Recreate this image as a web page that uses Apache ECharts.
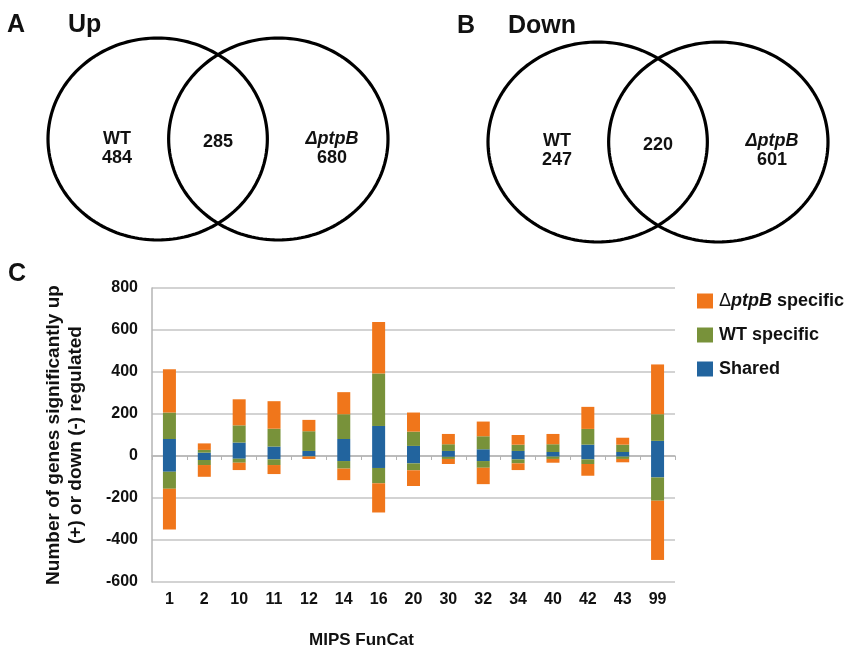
<!DOCTYPE html>
<html>
<head>
<meta charset="utf-8">
<script src="https://cdn.jsdelivr.net/npm/echarts@6/dist/echarts.min.js"></script>
<style>
  html, body { margin: 0; padding: 0; background: #fff; }
  #main { width: 849px; height: 655px; }
</style>
</head>
<body>
<div id="main"></div>
<script>
// MIPS functional categories (x axis)
var funCats = ['1', '2', '10', '11', '12', '14', '16', '20', '30', '32', '34', '40', '42', '43', '99'];

// up-regulated (+)
var sharedUp = [81, 16, 64, 45, 24, 81, 143, 48, 24, 32, 24, 19, 54, 19, 72];
var wtUp     = [126, 13, 82, 85, 94, 118, 250, 68, 32, 62, 30, 37, 75, 35, 127];
var ptpbUp   = [206, 31, 124, 131, 54, 105, 245, 91, 49, 70, 46, 49, 105, 33, 237];

// down-regulated (-)
var sharedDown = [-75, -19, -13, -16, -1, -24, -57, -35, -4, -24, -16, -3, -16, -3, -102];
var wtDown     = [-81, -24, -19, -27, -2, -36, -73, -33, -10, -32, -19, -11, -22, -11, -111];
var ptpbDown   = [-194, -56, -35, -43, -11, -55, -139, -75, -24, -78, -32, -18, -56, -16, -282];

// venn counts: WT only, shared, ΔptpB only
var vennUp = [484, 285, 680];
var vennDown = [247, 220, 601];
var vennNames = ['WT', '', 'ΔptpB'];

var yTicks = { min: -600, max: 800, interval: 200 };

var ORANGE = '#F0761B', GREEN = '#78923A', BLUE = '#22649E';
var FONT = 'Liberation Sans, Arial, Helvetica, sans-serif';

var chart = echarts.init(document.getElementById('main'));

// circle centres / label spots in venn data space (x -1.55..1.55, y -1..1)
var circles = [[-0.55, 0, 1], [0.55, 0, 1]];
var labelSpots = [[-0.92, -0.09], [0.0, -0.03], [1.04, -0.09]];

function circleItem(params, api) {
    var cx = api.value(0), cy = api.value(1), r = api.value(2);
    var pts = [];
    for (var k = 0; k < 180; k++) {
        var a = k / 180 * Math.PI * 2;
        pts.push(api.coord([cx + r * Math.cos(a), cy + r * Math.sin(a)]));
    }
    return {
        type: 'polygon',
        shape: { points: pts },
        style: { fill: 'none', stroke: '#000', lineWidth: 3.2 }
    };
}

function vennLabels(counts) {
    return labelSpots.map(function (p, i) { return [p[0], p[1], i, counts[i]]; });
}

function labelItem(params, api) {
    var pos = api.coord([api.value(0), api.value(1)]);
    var i = api.value(2), n = api.value(3);
    var txt;
    if (vennNames[i] === '') txt = '{n|' + n + '}';
    else if (i === 2) txt = '{i|' + vennNames[i] + '}\n{n|' + n + '}';
    else txt = '{n|' + vennNames[i] + '}\n{n|' + n + '}';
    return {
        type: 'text',
        x: pos[0], y: pos[1],
        style: {
            text: txt,
            align: 'center',
            verticalAlign: 'middle',
            rich: {
                n: { fontFamily: FONT, fontWeight: 'bold', fontSize: 18, lineHeight: 19, fill: '#111' },
                i: { fontFamily: FONT, fontWeight: 'bold', fontStyle: 'italic', fontSize: 18, lineHeight: 19, fill: '#111' }
            }
        }
    };
}

function bar(name, data, color) {
    return {
        name: name,
        type: 'bar',
        stack: 'genes',
        xAxisIndex: 0,
        yAxisIndex: 0,
        barWidth: 13,
        data: data,
        itemStyle: { color: color },
        emphasis: { disabled: true }
    };
}

function head(txt, x, y, size) {
    return { text: txt, left: x, top: y, padding: 0,
        textStyle: { fontFamily: FONT, fontSize: size, fontWeight: 'bold', color: '#111' } };
}

var option = {
    animation: false,
    backgroundColor: '#fff',
    title: [
        head('A', 7, 13, 25),
        head('Up', 68, 13, 25),
        head('B', 457, 14, 25),
        head('Down', 508, 14, 25),
        head('C', 8, 262, 25),
        head('MIPS FunCat', 309, 632, 17)
    ],
    legend: {
        orient: 'vertical',
        left: 692,
        top: 287,
        itemWidth: 16,
        itemHeight: 15,
        itemGap: 16,
        icon: 'rect',
        data: ['ΔptpB specific', 'WT specific', 'Shared'],
        formatter: function (name) {
            if (name === 'ΔptpB specific') return '{d|Δ}{i|ptpB}{b| specific}';
            return '{b|' + name + '}';
        },
        textStyle: {
            padding: [0, 0, 0, 1],
            rich: {
                d: { fontFamily: FONT, fontSize: 18, color: '#111' },
                i: { fontFamily: FONT, fontSize: 18, fontWeight: 'bold', fontStyle: 'italic', color: '#111' },
                b: { fontFamily: FONT, fontSize: 18, fontWeight: 'bold', color: '#111' }
            }
        }
    },
    grid: [
        { left: 152, right: 174, top: 288, bottom: 73 },
        { left: 48, top: 38, width: 340, height: 202 },
        { left: 488, top: 42, width: 340, height: 200 }
    ],
    xAxis: [
        {
            type: 'category', gridIndex: 0, data: funCats, position: 'bottom',
            axisLine: { onZero: true, lineStyle: { color: '#b5b5b5', width: 1.5 } },
            axisTick: { show: true, length: 4, lineStyle: { color: '#b5b5b5' } },
            axisLabel: { show: false }
        },
        {
            type: 'category', gridIndex: 0, data: funCats, position: 'bottom',
            axisLine: { show: false, onZero: false },
            axisTick: { show: false },
            axisLabel: { margin: 10, fontFamily: FONT, fontSize: 16, fontWeight: 'bold', color: '#111' }
        },
        { type: 'value', gridIndex: 1, min: -1.55, max: 1.55, show: false },
        { type: 'value', gridIndex: 2, min: -1.55, max: 1.55, show: false }
    ],
    yAxis: [
        {
            type: 'value', gridIndex: 0,
            min: yTicks.min, max: yTicks.max, interval: yTicks.interval,
            name: 'Number of genes significantly up\n(+) or down (-) regulated',
            nameLocation: 'middle',
            nameGap: 65,
            nameTextStyle: { fontFamily: FONT, fontSize: 19, fontWeight: 'bold', color: '#111', lineHeight: 22 },
            axisLine: { show: true, lineStyle: { color: '#b5b5b5', width: 1.5 } },
            axisTick: { show: false },
            splitLine: { lineStyle: { color: '#c4c4c4', width: 1.5 } },
            axisLabel: { margin: 14, fontFamily: FONT, fontSize: 16, fontWeight: 'bold', color: '#111' }
        },
        { type: 'value', gridIndex: 1, min: -1, max: 1, show: false },
        { type: 'value', gridIndex: 2, min: -1, max: 1, show: false }
    ],
    series: [
        bar('Shared', sharedUp, BLUE),
        bar('Shared', sharedDown, BLUE),
        bar('WT specific', wtUp, GREEN),
        bar('WT specific', wtDown, GREEN),
        bar('ΔptpB specific', ptpbUp, ORANGE),
        bar('ΔptpB specific', ptpbDown, ORANGE),
        { type: 'custom', xAxisIndex: 2, yAxisIndex: 1, data: circles, renderItem: circleItem, silent: true },
        { type: 'custom', xAxisIndex: 3, yAxisIndex: 2, data: circles, renderItem: circleItem, silent: true },
        { type: 'custom', xAxisIndex: 2, yAxisIndex: 1, data: vennLabels(vennUp), renderItem: labelItem, silent: true },
        { type: 'custom', xAxisIndex: 3, yAxisIndex: 2, data: vennLabels(vennDown), renderItem: labelItem, silent: true }
    ]
};

chart.setOption(option);

window.onresize = function () {
    if (chart != null && chart != undefined) {
        chart.resize();
    }
};
</script>
</body>
</html>
